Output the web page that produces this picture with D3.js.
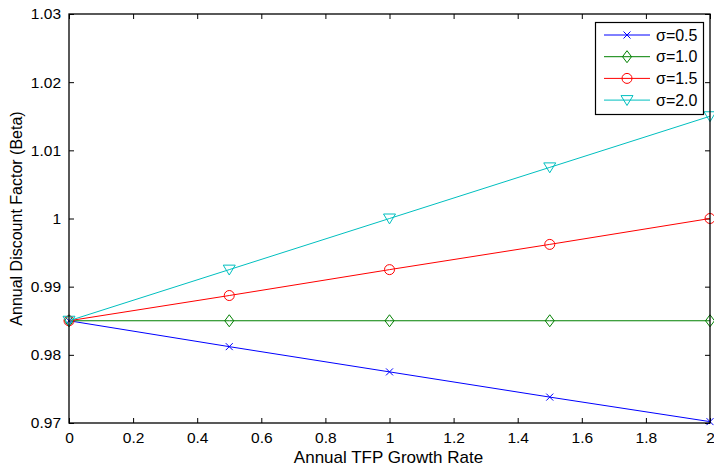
<!DOCTYPE html>
<html><head><meta charset="utf-8">
<script src="https://cdn.jsdelivr.net/npm/d3@7"></script>
<style>body{margin:0;background:#fff}svg{display:block}text{font-family:"Liberation Sans",Arial,sans-serif}</style>
</head><body>
<svg id="c" width="714" height="469"></svg>
<script>
const growth = [0, 0.5, 1, 1.5, 2];
const sigma05 = [0.985, 0.9812, 0.9775, 0.9738, 0.9702];
const sigma10 = [0.985, 0.985, 0.985, 0.985, 0.985];
const sigma15 = [0.985, 0.9887, 0.9925, 0.9962, 1.0];
const sigma20 = [0.985, 0.9925, 1.0, 1.0075, 1.015];
const seriesNames = ["σ=0.5", "σ=1.0", "σ=1.5", "σ=2.0"];
const xTicks = [0, 0.2, 0.4, 0.6, 0.8, 1, 1.2, 1.4, 1.6, 1.8, 2];
const yTicks = [0.97, 0.98, 0.99, 1, 1.01, 1.02, 1.03];

const colors = ["#0000ff", "#008000", "#ff0000", "#00bfbf"];
const markers = ["x", "diamond", "circle", "tri"];
const series = [sigma05, sigma10, sigma15, sigma20];

const svg = d3.select("#c");
const L = 69, R = 710, T = 14, B = 423;
const x = d3.scaleLinear().domain([0, 2]).range([L, R]);
const y = d3.scaleLinear().domain([0.97, 1.03]).range([B, T]);

const fmtX = d => String(+d.toFixed(1));
const fmtY = d => String(+d.toFixed(2));

const gx = svg.append("g").attr("transform", `translate(0,${B})`)
  .call(d3.axisBottom(x).tickValues(xTicks).tickSize(-5).tickPadding(9).tickFormat(fmtX));
const gxt = svg.append("g").attr("transform", `translate(0,${T})`)
  .call(d3.axisTop(x).tickValues(xTicks).tickSize(-5).tickFormat(""));
const gy = svg.append("g").attr("transform", `translate(${L},0)`)
  .call(d3.axisLeft(y).tickValues(yTicks).tickSize(-5).tickPadding(8).tickFormat(fmtY));
const gyr = svg.append("g").attr("transform", `translate(${R},0)`)
  .call(d3.axisRight(y).tickValues(yTicks).tickSize(-5).tickFormat(""));
[gx, gxt, gy, gyr].forEach(g => {
  g.select(".domain").remove();
  g.selectAll(".tick line").attr("stroke", "#000").attr("stroke-width", 1);
  g.selectAll("text").attr("font-size", 15.5).attr("fill", "#000")
    .attr("font-family", "Liberation Sans, Arial, sans-serif");
});
gy.selectAll("text").attr("dy", "0.32em");

const line = d3.line().x((d, i) => x(growth[i])).y(d => y(d));

function drawMarker(g, type, cx, cy, color) {
  if (type === "x") {
    const s = 3.5;
    g.append("path").attr("d", `M${cx-s},${cy-s}L${cx+s},${cy+s}M${cx-s},${cy+s}L${cx+s},${cy-s}`)
      .attr("stroke", color).attr("fill", "none").attr("stroke-width", 1);
  } else if (type === "diamond") {
    const s = 6;
    g.append("path").attr("d", `M${cx},${cy-s}L${cx+s*0.75},${cy}L${cx},${cy+s}L${cx-s*0.75},${cy}Z`)
      .attr("stroke", color).attr("fill", "none").attr("stroke-width", 1);
  } else if (type === "circle") {
    g.append("circle").attr("cx", cx).attr("cy", cy).attr("r", 5)
      .attr("stroke", color).attr("fill", "none").attr("stroke-width", 1);
  } else {
    const s = 6;
    g.append("path").attr("d", `M${cx-s},${cy-s*0.75}L${cx+s},${cy-s*0.75}L${cx},${cy+s*0.9}Z`)
      .attr("stroke", color).attr("fill", "none").attr("stroke-width", 1);
  }
}

const plot = svg.append("g");
series.forEach((vals, k) => {
  plot.append("path").datum(vals).attr("d", line)
    .attr("fill", "none").attr("stroke", colors[k]).attr("stroke-width", 1);
  vals.forEach((v, i) => drawMarker(plot, markers[k], x(growth[i]), y(v), colors[k]));
});

svg.append("rect").attr("x", L).attr("y", T).attr("width", R - L).attr("height", B - T)
  .attr("fill", "none").attr("stroke", "#000").attr("stroke-width", 1.3);

const lg = svg.append("g");
lg.append("rect").attr("x", 595.5).attr("y", 22.5).attr("width", 108).attr("height", 92)
  .attr("fill", "#fff").attr("stroke", "#000").attr("stroke-width", 1.2);
seriesNames.forEach((name, k) => {
  const yy = 35 + k * 21.7;
  lg.append("line").attr("x1", 604).attr("x2", 650).attr("y1", yy).attr("y2", yy)
    .attr("stroke", colors[k]).attr("stroke-width", 1);
  drawMarker(lg, markers[k], 627, yy, colors[k]);
  lg.append("text").attr("x", 656).attr("y", yy).attr("dy", "0.35em")
    .attr("font-size", 16).attr("fill", "#000").text(name);
});

svg.append("text").attr("x", (L + R) / 2 - 1).attr("y", 463).attr("text-anchor", "middle")
  .attr("font-size", 17).attr("fill", "#000").text("Annual TFP Growth Rate");
svg.append("text").attr("transform", `translate(22,${(T + B) / 2}) rotate(-90)`)
  .attr("text-anchor", "middle").attr("font-size", 16).attr("fill", "#000")
  .text("Annual Discount Factor (Beta)");
</script>
</body></html>
